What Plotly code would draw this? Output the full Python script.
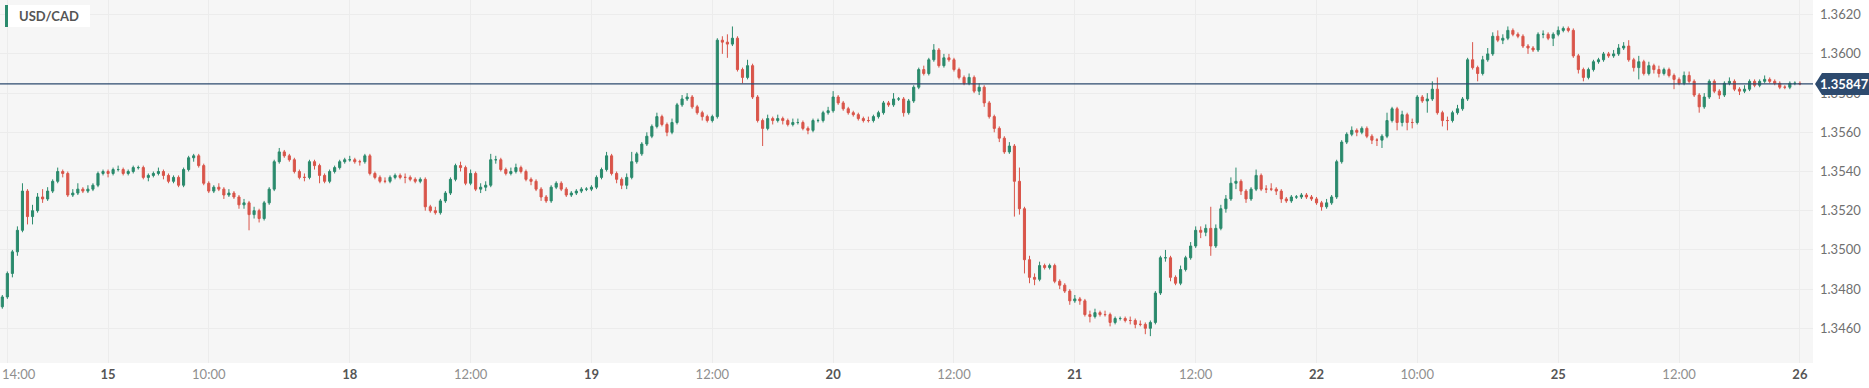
import plotly.graph_objects as go

# ---------------- data (30-minute candles, prices in pips above BASE) ----------------
BASE = 1.3400
PIP = 0.0001
SYMBOL = "USD/CAD"
LAST_PRICE = 1.35847

OPEN_FIRST = 71
CLOSE = [
    76, 88, 99, 110, 130, 117, 120, 127, 126, 130,
    135, 140, 139, 128, 129, 131, 130, 131, 133, 139,
    140, 139, 141, 141, 139, 140, 142, 142, 137, 138,
    139, 140, 138, 135, 137, 133, 141, 147, 148, 143,
    134, 130, 132, 131, 128, 129, 127, 123, 124, 118,
    120, 116, 124, 131, 145, 150, 148, 146, 140, 137,
    137, 145, 143, 138, 135, 140, 142, 145, 146, 146,
    145, 145, 148, 139, 137, 135, 135, 137, 138, 137,
    137, 136, 135, 136, 122, 120, 119, 125, 129, 136,
    143, 142, 134, 139, 131, 132, 133, 146, 146, 141,
    139, 140, 142, 140, 136, 135, 131, 127, 125, 132,
    134, 131, 128, 129, 130, 131, 131, 132, 137, 141,
    148, 139, 136, 133, 137, 145, 149, 154, 158, 163,
    168, 164, 160, 165, 174, 177, 178, 173, 170, 168,
    166, 168, 207, 206, 205, 208, 192, 188, 194, 178,
    166, 162, 167, 166, 167, 166, 164, 165, 165, 162,
    161, 166, 166, 170, 171, 178, 175, 172, 170, 169,
    167, 166, 166, 168, 170, 175, 174, 177, 177, 170,
    176, 183, 192, 190, 197, 202, 194, 198, 197, 192,
    188, 185, 188, 181, 183, 175, 168, 162, 157, 150,
    153, 135, 121, 95, 86, 85, 92, 91, 92, 84,
    82, 79, 74, 75, 74, 67, 66, 68, 67, 67,
    63, 65, 65, 64, 64, 62, 62, 60, 63, 78,
    96, 96, 86, 83, 90, 96, 102, 110, 109, 111,
    102, 111, 121, 126, 134, 135, 130, 126, 131, 138,
    131, 131, 131, 130, 126, 125, 127, 127, 128, 127,
    126, 124, 122, 124, 127, 145, 155, 159, 161, 160,
    162, 158, 156, 156, 158, 166, 172, 165, 169, 165,
    165, 178, 176, 177, 182, 170, 166, 166, 170, 172,
    177, 197, 193, 190, 197, 200, 209, 207, 208, 212,
    210, 209, 204, 203, 202, 210, 210, 208, 210, 212,
    213, 212, 199, 192, 188, 192, 196, 197, 200, 199,
    200, 203, 204, 197, 193, 196, 190, 194, 192, 190,
    192, 189, 187, 185, 189, 186, 179, 173, 178, 186,
    181, 179, 185, 186, 182, 181, 182, 186, 184, 186,
    187, 186, 185, 183, 183, 185, 185, 184.7,
]
HIGH = [
    77, 89, 100, 112, 134, 131, 123, 129, 131, 132,
    136, 142, 141, 140, 131, 134, 132, 133, 134, 140,
    141, 141, 142, 143, 142, 141, 143, 143, 143, 139,
    140, 142, 141, 139, 138, 138, 142, 148, 149, 149,
    144, 135, 133, 134, 132, 131, 130, 128, 126, 125,
    122, 121, 125, 132, 146, 152, 151, 149, 147, 141,
    139, 146, 146, 144, 139, 141, 143, 146, 147, 148,
    147, 146, 149, 149, 140, 138, 137, 138, 139, 139,
    139, 138, 137, 137, 137, 123, 122, 126, 130, 137,
    144, 145, 143, 141, 140, 134, 135, 149, 148, 147,
    142, 142, 144, 143, 141, 137, 136, 132, 128, 133,
    135, 135, 132, 130, 131, 132, 132, 133, 138, 142,
    150, 149, 140, 137, 139, 150, 150, 155, 160, 164,
    170, 169, 165, 167, 175, 179, 180, 179, 174, 171,
    169, 169, 208, 209, 210, 214, 209, 193, 197, 195,
    179, 167, 169, 168, 169, 168, 167, 167, 167, 166,
    163, 167, 167, 171, 173, 181, 179, 176, 173, 171,
    170, 168, 168, 169, 171, 176, 176, 180, 178, 178,
    177, 184, 193, 194, 198, 205, 203, 200, 200, 198,
    193, 189, 190, 189, 185, 184, 176, 169, 163, 158,
    155, 154, 142, 122, 97, 88, 94, 93, 93, 93,
    85, 83, 80, 77, 76, 75, 69, 70, 69, 69,
    68, 66, 66, 66, 66, 65, 64, 63, 64, 79,
    97, 100, 97, 87, 92, 97, 104, 112, 112, 113,
    122, 113, 123, 128, 137, 142, 136, 131, 132, 141,
    139, 133, 134, 132, 131, 127, 128, 128, 129, 129,
    128, 127, 125, 126, 128, 146, 156, 160, 163, 162,
    163, 163, 159, 157, 159, 170, 173, 173, 171, 170,
    167, 179, 179, 180, 186, 188, 171, 168, 171, 174,
    178, 198, 206, 194, 199, 203, 211, 212, 210, 214,
    213, 211, 210, 205, 204, 211, 212, 211, 211, 214,
    214, 214, 213, 200, 193, 193, 197, 198, 201, 201,
    202, 205, 206, 207, 198, 199, 197, 196, 195, 194,
    193, 193, 190, 188, 191, 191, 187, 180, 180, 187,
    187, 182, 186, 188, 187, 183, 184, 187, 187, 187,
    189, 188, 187, 186, 184, 186, 186, 186,
]
LOW = [
    70, 75, 86, 97, 109, 113, 113, 119, 124, 125,
    129, 134, 137, 127, 127, 128, 129, 129, 130, 132,
    138, 137, 138, 140, 138, 138, 139, 141, 136, 135,
    137, 138, 136, 134, 134, 132, 132, 140, 145, 142,
    133, 129, 129, 130, 126, 127, 126, 121, 121, 110,
    116, 114, 115, 123, 130, 144, 147, 145, 139, 136,
    135, 136, 141, 134, 134, 134, 139, 141, 144, 145,
    144, 143, 144, 138, 136, 134, 134, 134, 136, 136,
    134, 135, 134, 134, 120, 119, 118, 118, 124, 128,
    135, 140, 133, 133, 130, 129, 130, 132, 144, 140,
    138, 138, 139, 139, 135, 133, 130, 125, 124, 124,
    131, 130, 127, 127, 128, 129, 130, 130, 131, 136,
    140, 138, 134, 131, 131, 136, 144, 148, 153, 157,
    162, 163, 158, 159, 164, 173, 176, 172, 169, 166,
    165, 165, 167, 200, 198, 204, 191, 185, 187, 177,
    165, 153, 161, 164, 165, 164, 163, 163, 164, 161,
    159, 160, 165, 165, 169, 170, 174, 171, 169, 168,
    166, 165, 165, 165, 167, 169, 173, 173, 176, 168,
    169, 175, 182, 189, 189, 196, 193, 193, 196, 191,
    187, 184, 184, 180, 179, 173, 167, 160, 155, 149,
    149, 117, 118, 88, 83, 82, 84, 90, 90, 83,
    80, 78, 72, 73, 72, 66, 63, 65, 66, 66,
    61, 62, 64, 63, 62, 60, 61, 57, 56, 62,
    77, 94, 84, 82, 82, 89, 95, 101, 106, 107,
    97, 101, 110, 119, 125, 131, 128, 124, 125, 130,
    130, 129, 130, 128, 124, 124, 124, 126, 126, 126,
    125, 123, 120, 121, 123, 126, 144, 154, 158, 158,
    159, 157, 154, 153, 152, 157, 165, 161, 163, 161,
    162, 164, 175, 170, 176, 169, 163, 161, 165, 169,
    171, 176, 192, 186, 189, 196, 199, 206, 205, 207,
    209, 208, 203, 200, 201, 201, 208, 207, 204, 209,
    211, 211, 198, 190, 186, 187, 191, 195, 196, 198,
    198, 199, 202, 196, 191, 187, 189, 189, 190, 188,
    189, 188, 182, 184, 184, 185, 178, 170, 172, 177,
    180, 177, 178, 184, 181, 179, 180, 181, 183, 183,
    185, 185, 184, 182, 182, 182, 184, 184,
]

# x-axis ticks (candle index -> label)
TICK_IDX = [1, 21, 41, 69, 93, 117, 141, 165, 189, 213, 237, 261, 281, 309, 333, 357]
TICK_LABELS = ["14:00", "15", "10:00", "18", "12:00", "19", "12:00", "20",
               "12:00", "21", "12:00", "22", "10:00", "25", "12:00", "26"]
Y_TICKS = [1.3460, 1.3480, 1.3500, 1.3520, 1.3540, 1.3560, 1.3580, 1.3600, 1.3620]

# ---------------- build ----------------
n = len(CLOSE)
opens_p = [OPEN_FIRST] + CLOSE[:-1]
o = [BASE + v * PIP for v in opens_p]
c = [BASE + v * PIP for v in CLOSE]
h = [max(BASE + HIGH[i] * PIP, o[i], c[i]) for i in range(n)]
l = [min(BASE + LOW[i] * PIP, o[i], c[i]) for i in range(n)]
x = list(range(n))

GREEN = "#2a8a6c"
RED = "#d9554a"
NAVY = "#2d4a6e"
TIME_GRAY = "#8f8f8f"

def fmt_tick(t):
    if ":" in t:
        return t
    return "<span style='color:#555555'><b>%s</b></span>" % t

ticktext = [fmt_tick(t) for t in TICK_LABELS]
# the first label sits at the left edge; it is drawn as an annotation so it stays inside
first_label = TICK_LABELS[0]
ticktext[0] = ""

fig = go.Figure()
fig.add_trace(go.Candlestick(
    x=x, open=o, high=h, low=l, close=c,
    increasing=dict(line=dict(color=GREEN, width=1), fillcolor=GREEN),
    decreasing=dict(line=dict(color=RED, width=1), fillcolor=RED),
    whiskerwidth=0, showlegend=False, hoverinfo="skip",
))

W, H = 1869, 388
ML, MR, MT, MB = 0, 56, 0, 25
PW, PH = W - ML - MR, H - MT - MB

YMIN, YMAX = 1.34423, 1.36275

shapes = [
    dict(type="line", xref="paper", yref="y", x0=0, x1=1, y0=LAST_PRICE, y1=LAST_PRICE,
         line=dict(color=NAVY, width=1.3), layer="above"),
    dict(type="path", xref="paper", yref="y", xsizemode="pixel", ysizemode="pixel",
         xanchor=1, yanchor=LAST_PRICE,
         path="M 2 0 L 9 11 L 56 11 L 56 -11 L 9 -11 Z",
         fillcolor=NAVY, line=dict(width=0), layer="above"),
    dict(type="rect", xref="paper", yref="paper",
         x0=5 / PW, x1=90 / PW, y0=1 - 27 / PH, y1=1 - 5 / PH,
         fillcolor="white", line=dict(width=0), layer="above"),
    dict(type="rect", xref="paper", yref="paper",
         x0=5 / PW, x1=8 / PW, y0=1 - 27 / PH, y1=1 - 5 / PH,
         fillcolor=GREEN, line=dict(width=0), layer="above"),
]

annotations = [
    dict(text="<b>%s</b>" % SYMBOL, xref="paper", yref="paper", x=17 / PW, y=1 - 16 / PH,
         xanchor="left", yanchor="middle", showarrow=False,
         font=dict(family="Lato", size=13, color="#555555")),
    dict(text="<b>%.5f</b>" % LAST_PRICE, xref="paper", yref="y", x=1, y=LAST_PRICE,
         xanchor="center", yanchor="middle", xshift=31, showarrow=False,
         font=dict(family="Lato", size=13, color="white")),
    dict(text=first_label, xref="x", yref="paper", x=TICK_IDX[0], y=0,
         xanchor="left", yanchor="top", xshift=-7, yshift=-1, showarrow=False,
         font=dict(family="Lato", size=13, color=TIME_GRAY)),
]

fig.update_layout(
    width=W, height=H,
    margin=dict(l=ML, r=MR, t=MT, b=MB, pad=0, autoexpand=False),
    paper_bgcolor="white", plot_bgcolor="#f6f6f6",
    font=dict(family="Lato", size=13, color="#8a8a8a"),
    boxgap=0.4,
    shapes=shapes, annotations=annotations,
    xaxis=dict(range=[-0.46, 359.6], tickmode="array", tickvals=TICK_IDX, ticktext=ticktext,
               showgrid=True, gridcolor="#ececec", gridwidth=1, zeroline=False, showline=False,
               ticks="", ticklabelstandoff=2, automargin=False,
               tickfont=dict(family="Lato", size=13, color=TIME_GRAY),
               rangeslider=dict(visible=False), fixedrange=True),
    yaxis=dict(range=[YMIN, YMAX], side="right", tickmode="array", tickvals=Y_TICKS,
               ticktext=["%.4f" % v for v in Y_TICKS],
               showgrid=True, gridcolor="#ececec", gridwidth=1, zeroline=False, showline=False,
               ticks="", ticklabelstandoff=6, automargin=False,
               tickfont=dict(family="Lato", size=13, color="#707070"), fixedrange=True),
)

fig.write_html("out.html", config={"displayModeBar": False},
               post_script="document.body.style.margin='0';")
